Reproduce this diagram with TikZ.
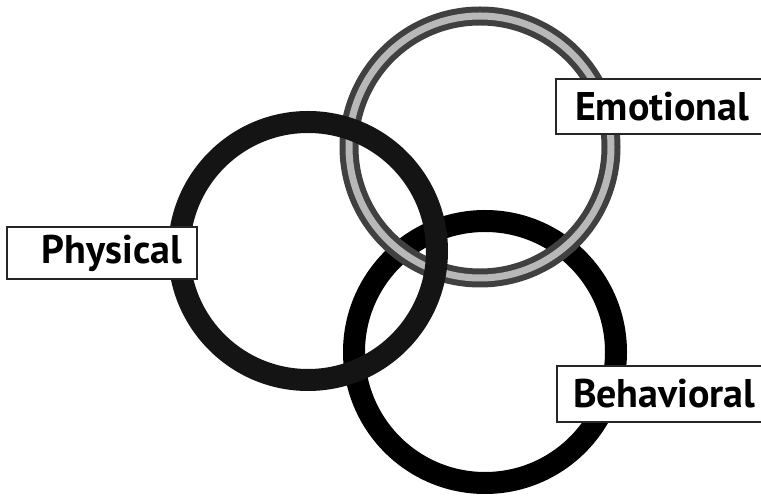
\documentclass[tikz,border=0pt]{standalone}
\usepackage{fontspec}
\setmainfont{PT Sans}
\tikzstyle{physring} = [draw=black!92, line width=16.5pt]
\tikzstyle{emotring} = [draw=black!75, line width=4.5pt, double=black!28, double distance=5.25pt]
\tikzstyle{behavring} = [draw=black, line width=16.5pt]
\tikzstyle{tag} = [draw=black!85, line width=1.1pt, fill=white, font=\bfseries\fontsize{30}{35}\selectfont]

\begin{document}
\begin{tikzpicture}[x=0.75pt, y=-0.75pt]
    \useasboundingbox (0,0) rectangle (761,498);

    % Ring centres
    \coordinate (physc) at (308,251);
    \coordinate (emotc) at (480,147);
    \coordinate (behavc) at (485,352);

    % Rings, bottom one first
    \draw[behavring] (behavc) circle[radius=131];
    \draw[emotring] (emotc) circle[radius=131];
    \draw[physring] (physc) circle[radius=129];

    % Labels
    \node[tag, text width=120pt, align=right, inner xsep=11.25pt, minimum height=39pt] (physical) at (102,253) {Physical};
    \node[tag, text width=135.75pt, align=left, inner xsep=14.25pt, minimum height=41.25pt] (emotional) at (665.5,106.5) {Emotional};
    \node[tag, text width=139.5pt, align=left, inner xsep=12pt, minimum height=42pt] (behavioral) at (666,394) {Behavioral};
\end{tikzpicture}
\end{document}
